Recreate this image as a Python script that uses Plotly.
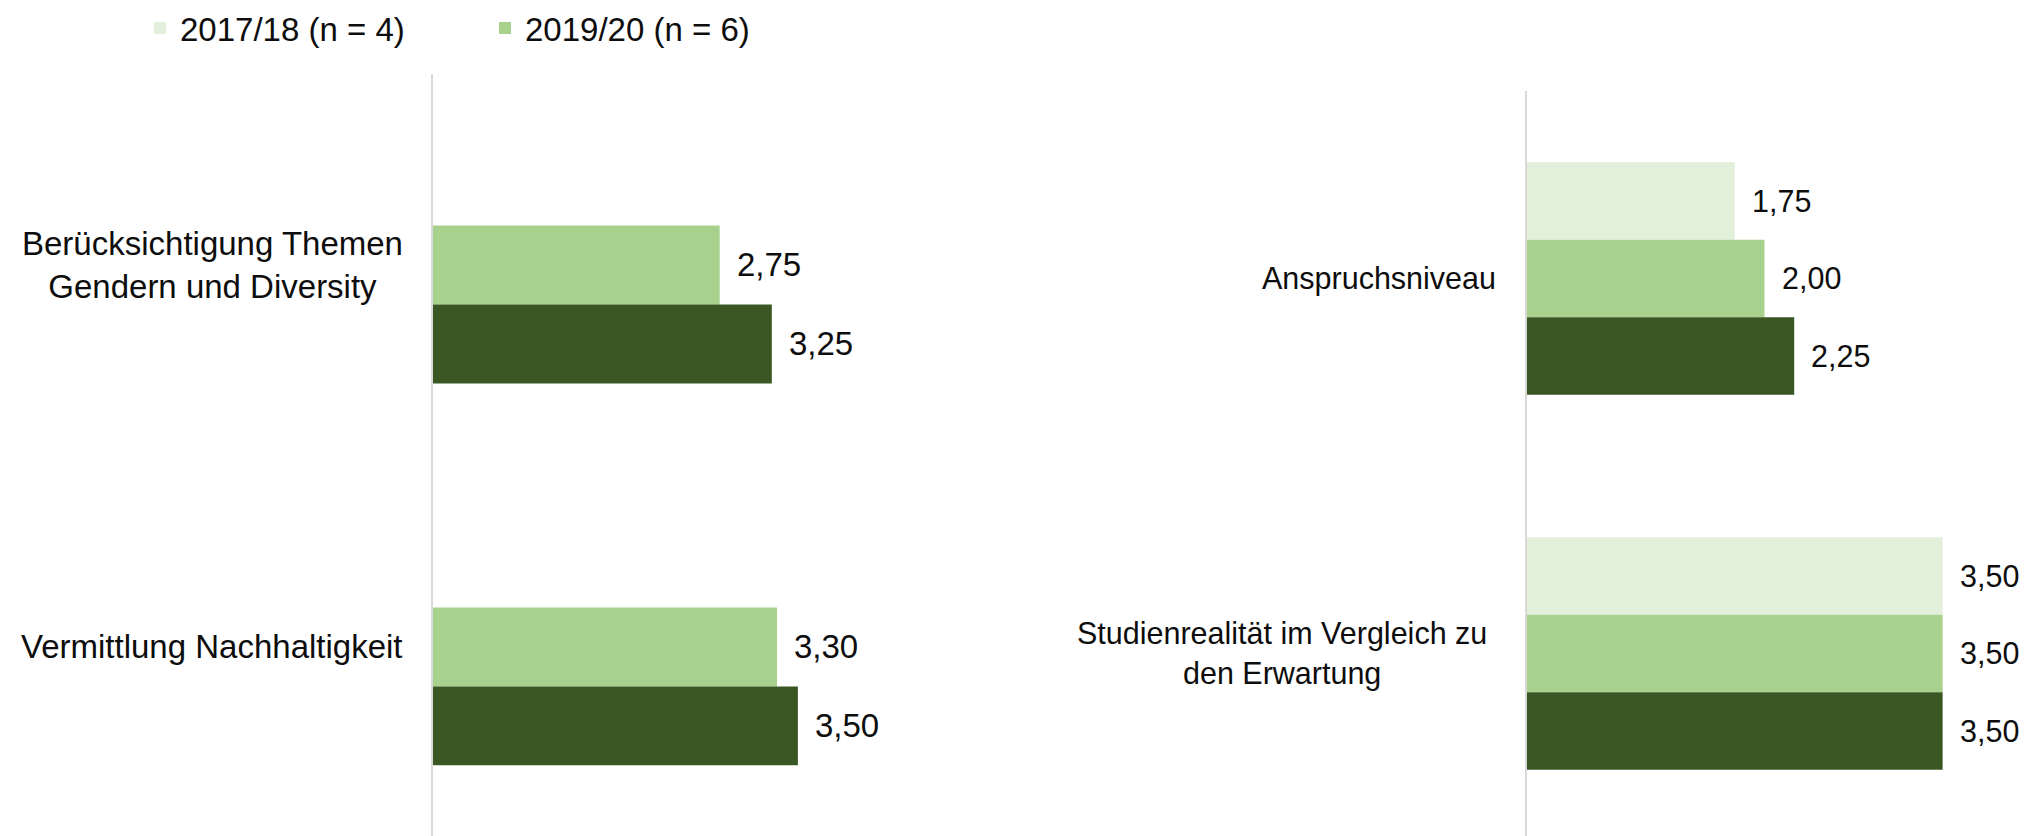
import plotly.graph_objects as go

# ---------------- data ----------------
series_names = ["2017/18 (n = 4)", "2019/20 (n = 6)", "2021/22"]
series_colors = ["#E2EFDA", "#A9D18E", "#3A5723"]
series_legend = [True, True, False]

left_categories = ["Berücksichtigung Themen<br>Gendern und Diversity", "Vermittlung Nachhaltigkeit"]
left_values = [
    [None, None],      # 2017/18
    [2.75, 3.30],      # 2019/20
    [3.25, 3.50],      # 2021/22
]

right_categories = ["Anspruchsniveau", "Studienrealität im Vergleich zu<br>den Erwartung"]
right_values = [
    [1.75, 3.50],
    [2.00, 3.50],
    [2.25, 3.50],
]

# ---------------- styling ----------------
W, H = 2044, 836
FONT = "Arial, Liberation Sans, sans-serif"
FS_L = 33
FS_R = 30.5
TXT = "#0d0d0d"
BARGAP = 0.38

def px_x(p):
    return p / W

def px_y(p):
    return (H - p) / H

fig = go.Figure()

n_series = len(series_names)
for i in range(n_series):
    fig.add_trace(go.Bar(
        x=left_values[i], y=[str(k) for k in range(len(left_categories))],
        orientation="h", name=series_names[i],
        marker=dict(color=series_colors[i], line=dict(width=0)),
        showlegend=series_legend[i], legendgroup=series_names[i],
        xaxis="x", yaxis="y", hoverinfo="skip",
    ))
for i in range(n_series):
    fig.add_trace(go.Bar(
        x=right_values[i], y=[str(k) for k in range(len(right_categories))],
        orientation="h", name=series_names[i],
        marker=dict(color=series_colors[i], line=dict(width=0)),
        showlegend=False, legendgroup=series_names[i],
        xaxis="x2", yaxis="y2", hoverinfo="skip",
    ))

annotations = []
group = 1 - BARGAP
w = group / n_series

def fmt(v):
    return f"{v:.2f}".replace(".", ",")

for (cats, vals, xr, yr, shifts, fs) in [
    (left_categories, left_values, "x", "y", [-28, -28], FS_L),
    (right_categories, right_values, "x2", "y2", [-29, -38], FS_R),
]:
    for k, c in enumerate(cats):
        annotations.append(dict(
            x=0, y=k, xref=xr, yref=yr, text=c, showarrow=False,
            xanchor="right", yanchor="middle", align="center", xshift=shifts[k],
            font=dict(family=FONT, size=fs, color=TXT),
        ))
    for i in range(n_series):
        off = -group / 2 + w * (i + 0.5)
        for k, v in enumerate(vals[i]):
            if v is None:
                continue
            annotations.append(dict(
                x=v, y=k + off, xref=xr, yref=yr, text=fmt(v), showarrow=False,
                xanchor="left", yanchor="middle", xshift=15,
                font=dict(family=FONT, size=fs, color=TXT),
            ))

axis_x = dict(range=[0, 4], showgrid=False, zeroline=False, showticklabels=False,
              showline=False, fixedrange=True)
fig.update_layout(
    width=W, height=H,
    margin=dict(l=0, r=0, t=0, b=0, autoexpand=False),
    paper_bgcolor="white", plot_bgcolor="white",
    barmode="group", bargap=BARGAP, bargroupgap=0,
    font=dict(family=FONT, size=FS_L, color=TXT),
    xaxis=dict(domain=[px_x(433), px_x(850)], anchor="y", **axis_x),
    xaxis2=dict(domain=[px_x(1527), px_x(2002)], anchor="y2", **axis_x),
    yaxis=dict(domain=[0, px_y(74)], anchor="x", type="category",
               range=[1.495, -0.5], showticklabels=False, showgrid=False,
               zeroline=False, showline=True, linecolor="#d9d9d9", linewidth=2,
               ticks="", fixedrange=True),
    yaxis2=dict(domain=[0, px_y(91)], anchor="x2", type="category",
                range=[1.487, -0.5], showticklabels=False, showgrid=False,
                zeroline=False, showline=True, linecolor="#d9d9d9", linewidth=2,
                ticks="", fixedrange=True),
    legend=dict(orientation="h", x=px_x(140), xanchor="left", y=1.0, yanchor="top",
                font=dict(family=FONT, size=FS_L, color=TXT), entrywidth=300,
                entrywidthmode="pixels", bgcolor="rgba(0,0,0,0)", traceorder="normal"),
    annotations=annotations,
)

fig.write_html("out.html", config={"displayModeBar": False},
               post_script="document.body.style.margin='0';document.body.style.overflow='hidden';")
